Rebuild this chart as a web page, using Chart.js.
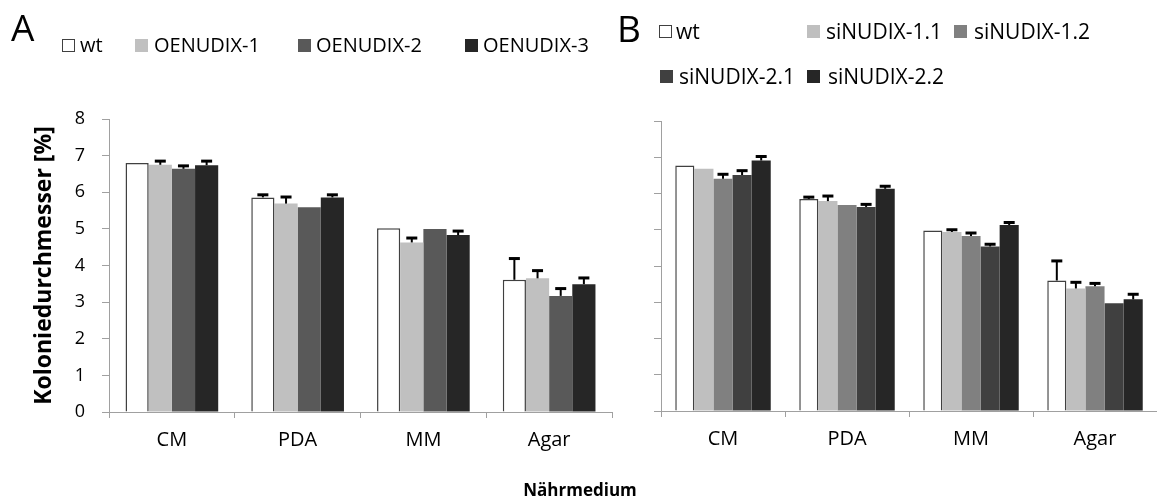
<!DOCTYPE html>
<html>
<head>
<meta charset="utf-8">
<script src="https://cdn.jsdelivr.net/npm/chart.js@4.4.0/dist/chart.umd.min.js"></script>
<style>
body { margin: 0; background: #fff; }
#wrap { position: relative; width: 1157px; height: 500px; overflow: hidden; font-family: 'Open Sans', sans-serif; color: #000; }
canvas { position: absolute; top: 0; }
.t { position: absolute; white-space: nowrap; }
.box { position: absolute; box-sizing: border-box; width: 13px; height: 13px; }
</style>
</head>
<body>
<div id="wrap">
  <canvas id="chartA" width="620" height="500" style="left:0"></canvas>
  <canvas id="chartB" width="537" height="500" style="left:620px"></canvas>
</div>
<script>
// data
var categories = ['CM', 'PDA', 'MM', 'Agar'];

var seriesA = ['wt', 'OENUDIX-1', 'OENUDIX-2', 'OENUDIX-3'];
var wtA     = [6.80, 5.86, 5.02, 3.61];
var wtAErr  = [0,    0.07, 0,    0.58];
var oe1     = [6.75, 5.69, 4.63, 3.65];
var oe1Err  = [0.10, 0.18, 0.12, 0.21];
var oe2     = [6.64, 5.59, 5.00, 3.17];
var oe2Err  = [0.08, 0,    0,    0.20];
var oe3     = [6.74, 5.86, 4.83, 3.49];
var oe3Err  = [0.11, 0.07, 0.11, 0.17];

var seriesB = ['wt', 'siNUDIX-1.1', 'siNUDIX-1.2', 'siNUDIX-2.1', 'siNUDIX-2.2'];
var wtB     = [6.77, 5.85, 4.98, 3.60];
var wtBErr  = [0,    0.05, 0,    0.54];
var si11    = [6.68, 5.79, 4.94, 3.38];
var si11Err = [0,    0.14, 0.06, 0.17];
var si12    = [6.41, 5.68, 4.83, 3.44];
var si12Err = [0.12, 0,    0.08, 0.08];
var si21    = [6.51, 5.63, 4.54, 2.97];
var si21Err = [0.12, 0.07, 0.06, 0];
var si22    = [6.91, 6.13, 5.13, 3.08];
var si22Err = [0.11, 0.07, 0.07, 0.14];

var yMin = 0, yMax = 8, yStep = 1;
var yTitle = 'Koloniedurchmesser [%]';
var xTitle = 'Nährmedium';

// styles
var colorsA = ['#ffffff', '#c0c0c0', '#595959', '#262626'];
var colorsB = ['#ffffff', '#bfbfbf', '#808080', '#404040', '#262626'];
var axisGrey = '#a0a0a0';

Chart.defaults.font.family = "'Open Sans', sans-serif";
Chart.defaults.color = '#000';

// error bars, only upwards with a cap
var errorBars = {
  id: 'errorBars',
  afterDatasetsDraw: function(chart){
    var ctx = chart.ctx;
    var y = chart.scales.y;
    ctx.save();
    ctx.strokeStyle = '#000';
    chart.data.datasets.forEach(function(ds, i){
      chart.getDatasetMeta(i).data.forEach(function(bar, j){
        var e = ds.errors[j];
        if(!e) return;
        var top = y.getPixelForValue(ds.data[j] + e);
        ctx.lineWidth = 2;
        ctx.beginPath();
        ctx.moveTo(bar.x, bar.y);
        ctx.lineTo(bar.x, top);
        ctx.stroke();
        ctx.lineWidth = 3;
        ctx.beginPath();
        ctx.moveTo(bar.x - 5.5, top);
        ctx.lineTo(bar.x + 5.5, top);
        ctx.stroke();
      });
    });
    ctx.restore();
  }
};

function make_datasets(names, values, errors, colors){
  return names.map(function(n, i){
    return {
      label: n,
      data: values[i],
      errors: errors[i],
      backgroundColor: colors[i],
      borderColor: i === 0 ? '#404040' : colors[i],
      borderWidth: i === 0 ? 1.5 : 0,
      barPercentage: 1.0
    };
  });
}

function make_chart(id, datasets, catPct, o){
  return new Chart(document.getElementById(id), {
    type: 'bar',
    data: { labels: categories, datasets: datasets },
    options: {
      responsive: false,
      animation: false,
      devicePixelRatio: 1,
      categoryPercentage: catPct,
      layout: { padding: { top: o.top, right: o.right, left: 0, bottom: 0 } },
      plugins: { legend: { display: false }, tooltip: { enabled: false } },
      scales: {
        x: {
          grid: { display: true, drawOnChartArea: false, drawTicks: true, tickLength: 6, color: axisGrey, offset: true },
          border: { color: axisGrey, width: 1 },
          ticks: { font: { size: 20 }, padding: 10, color: '#000' },
          afterFit: function(s){ s.height = o.xh; }
        },
        y: {
          min: yMin, max: yMax,
          grid: { drawOnChartArea: false, drawTicks: true, tickLength: 7, color: axisGrey },
          border: { color: axisGrey, width: 1 },
          ticks: { stepSize: yStep, display: o.yLabels, font: { size: 18 }, padding: 17, color: '#000' },
          title: { display: !!o.title, text: o.title || '', font: { size: 23, weight: 'bold' }, padding: { top: 31, bottom: 0 }, color: '#000' },
          afterFit: function(s){ s.width = o.yw; }
        }
      }
    },
    plugins: [errorBars]
  });
}

make_chart('chartA',
  make_datasets(seriesA, [wtA, oe1, oe2, oe3], [wtAErr, oe1Err, oe2Err, oe3Err], colorsA),
  0.737, { top: 119, right: 8, xh: 88, yw: 109, yLabels: true, title: yTitle });

make_chart('chartB',
  make_datasets(seriesB, [wtB, si11, si12, si21, si22], [wtBErr, si11Err, si12Err, si21Err, si22Err], colorsB),
  0.77, { top: 121, right: 0, xh: 89, yw: 41, yLabels: false, title: null });

// html text: panel letters, legends, shared x title
var wrap = document.getElementById('wrap');
function add_text(txt, x, cy, size, weight, anchor){
  var d = document.createElement('div');
  d.className = 't';
  d.textContent = txt;
  d.style.fontSize = size + 'px';
  d.style.lineHeight = Math.round(size * 1.2) + 'px';
  d.style.fontWeight = weight || 'normal';
  d.style.top = (cy - Math.round(size * 1.2) / 2) + 'px';
  d.style.left = x + 'px';
  if(anchor === 'center') d.style.transform = 'translateX(-50%)';
  wrap.appendChild(d);
  return d;
}
function add_key(name, color, bx, tx, cy, size){
  var b = document.createElement('div');
  b.className = 'box';
  b.style.left = bx + 'px';
  b.style.top = (cy - 6) + 'px';
  b.style.background = color;
  if(color === '#ffffff') b.style.border = '1.5px solid #404040';
  wrap.appendChild(b);
  add_text(name, tx, cy, size);
}

add_text('A', 11, 27, 37);
add_text('B', 617, 28, 37);

var keyBoxA  = [62, 135, 298, 465];
var keyTextA = [80, 154, 316, 483];
seriesA.forEach(function(n, i){ add_key(n, colorsA[i], keyBoxA[i], keyTextA[i], 45, 20); });

var keyBoxB  = [659, 807, 954, 660, 807];
var keyTextB = [676, 826, 974, 679, 828];
var keyRowB  = [31, 31, 31, 76, 76];
seriesB.forEach(function(n, i){ add_key(n, colorsB[i], keyBoxB[i], keyTextB[i], keyRowB[i], 21); });

add_text(xTitle, 580, 490, 17, 'bold', 'center');
</script>
</body>
</html>
